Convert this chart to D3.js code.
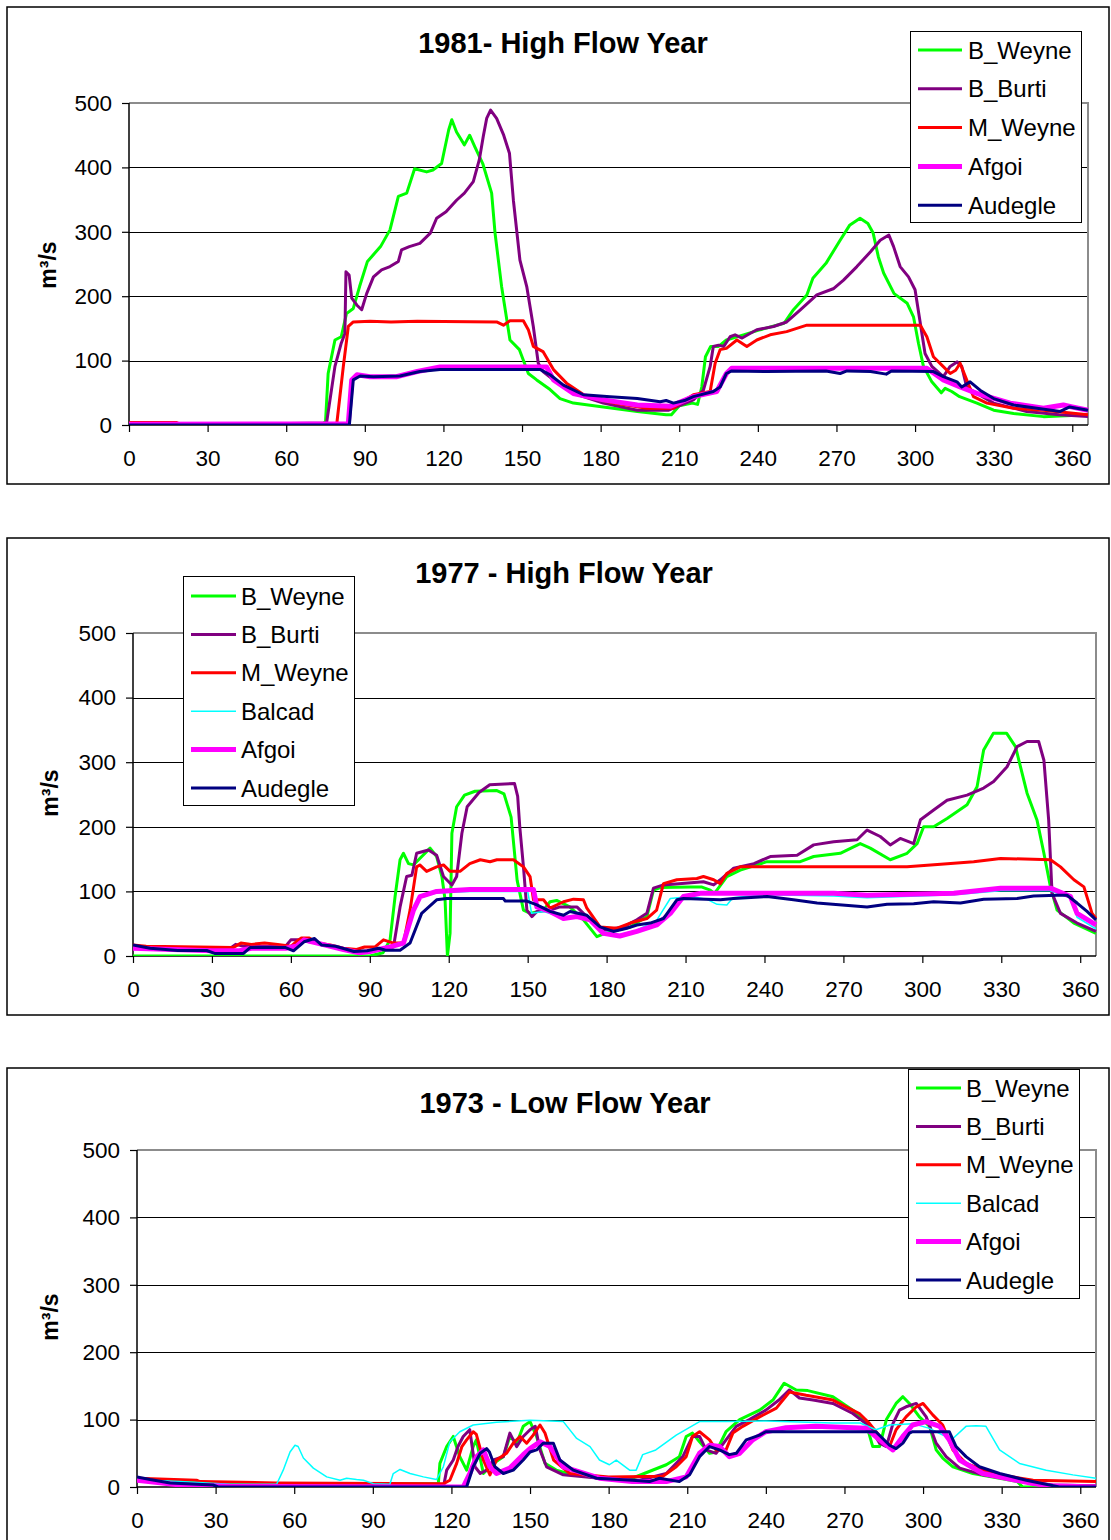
<!DOCTYPE html>
<html><head><meta charset="utf-8">
<script src="https://cdn.jsdelivr.net/npm/d3@7"></script>
<style>
html,body{margin:0;padding:0;background:#fff;}
svg{display:block;font-family:"Liberation Sans",Arial,sans-serif;}
</style></head>
<body>
<svg id="c" width="1111" height="1540"></svg>
<script>
// ---------- DATA ----------
const xTicks = [0,30,60,90,120,150,180,210,240,270,300,330,360];
const yTicks = [0,100,200,300,400,500];
const titles = ["1981- High Flow Year", "1977 - High Flow Year", "1973 - Low Flow Year"];
const names81 = ["B_Weyne","B_Burti","M_Weyne","Afgoi","Audegle"];
const names77 = ["B_Weyne","B_Burti","M_Weyne","Balcad","Afgoi","Audegle"];
const names73 = ["B_Weyne","B_Burti","M_Weyne","Balcad","Afgoi","Audegle"];

// 1981 [day, m3/s]
const bWeyne81 = [[0,2],[20,2],[40,1],[74,2],[75,5],[76,80],[78.6,132],[81,137],[83,173],[85.6,181],[88,215],[91,254],[96,277],[99.6,303],[102.8,355],[106,360],[109,398],[113.6,393],[116,396],[119.3,406],[122,458],[123.2,474],[125,455],[128,435],[130,450],[132,432],[135,406],[138.4,360],[139.7,298],[142.2,215],[145.4,132],[149,117],[152.4,80],[155.6,70],[160.7,55],[164.5,41],[169.6,34],[181,28],[194,21],[205,16],[207,16],[210,30],[215,34],[217,32],[218.6,59],[220,106],[222,122],[225,122],[228,132],[234.5,140],[241,148],[250,158],[253.6,179],[258.7,202],[261,228],[266,251],[271.4,287],[275,310],[279,321],[282,313],[284,298],[286,261],[288,236],[292,204],[297,189],[299.4,168],[301.3,127],[303.2,91],[306.4,67],[310,50],[311.5,57],[314,52],[317,44],[323.6,34],[330,23],[337.6,18],[349,13],[366,16]];
const bBurti81 = [[0,1],[40,1],[75.4,3],[78.6,91],[81,127],[82.4,142],[82.8,238],[84,233],[85,197],[87,186],[88.8,179],[90.7,204],[93.3,230],[96.4,241],[99.6,246],[102.8,254],[104,272],[107,277],[111,282],[115,298],[117.4,321],[121,331],[125,349],[128,360],[131.4,378],[133.7,412],[135.2,448],[136.5,476],[138,489],[140.3,476],[143,450],[145.2,422],[146.7,349],[149.2,256],[151.8,215],[154.3,153],[156.2,96],[158,83],[162,70],[169.6,49],[181,34],[194,23],[206,23],[215.4,39],[219.2,54],[221.8,91],[223,122],[225,124],[227,122],[229.4,137],[231.3,140],[234,135],[237,142],[239.6,148],[246,153],[251,160],[256,178],[262.5,202],[269,212],[272.7,225],[277.8,246],[283,269],[286.7,287],[290,295],[291.8,277],[294.3,246],[297.5,230],[300,210],[302,158],[303.8,111],[306.4,91],[310.8,75],[313.4,91],[316,98],[317.8,91],[319.7,59],[323.6,49],[330,34],[342.6,21],[355,16],[366,13]];
const mWeyne81 = [[0,4],[18,4],[19,2],[79.3,2],[81.8,91],[83.7,153],[85.6,160],[92,161],[100,160],[110,161],[140.3,160],[142.9,155],[145.4,162],[150.5,162],[152.4,148],[154.3,122],[158,114],[162,86],[167,65],[174.7,44],[185,34],[197.6,26],[207.8,26],[210.3,34],[215.4,47],[221.8,52],[223.7,96],[225.6,117],[228,119],[232,132],[235.8,122],[239.6,132],[244.7,140],[251,145],[258.7,155],[302,155],[304.5,137],[307,106],[310.2,93],[313.4,80],[315.5,85],[317.2,96],[319.7,70],[322.3,44],[327.4,34],[337.6,26],[349,23],[366,16]];
const afgoi81 = [[0,1],[83.7,2],[85,70],[87,78],[92,75],[102,75],[110,83],[118.7,90],[159.4,90],[162,70],[169.6,49],[181,39],[194,31],[206.5,29],[215.4,44],[224.3,52],[228,80],[230,88],[304.5,88],[310.8,70],[317.2,59],[323.6,49],[336.3,34],[349,26],[356.6,31],[360,28],[366,23]];
const audegle81 = [[0,0],[84.1,0],[85.6,70],[88.2,76],[93.3,75],[103.4,76],[111,83],[118.7,86],[157,86],[160.7,78],[165.8,62],[173.4,47],[183.6,44],[194,41],[202.7,36],[205,38],[207.8,34],[212,38],[215.4,44],[223,52],[225.6,59],[228,80],[230,84],[243,83],[266,84],[271.4,80],[274,84],[283,83],[289,79],[291,84],[307,83],[310.8,75],[316,67],[317.8,59],[321,67],[324.8,54],[330,41],[337.6,31],[346.5,26],[355.4,21],[359,28],[366,23]];

// 1977
const bWeyne77 = [[0,0],[90,0],[95,5],[97.7,25],[99.6,92],[101.5,149],[102.8,159],[104.7,143],[106.6,141],[109,151],[112.9,167],[115.4,154],[117.4,123],[118.6,87],[119.5,0],[120.5,35],[121.2,190],[123,231],[126,249],[130,255],[138.3,256],[141,251],[143.7,215],[146,117],[148.4,71],[151,66],[156,71],[158.5,84],[161,86],[166,76],[171.2,56],[176.3,30],[181.4,38],[189,45],[195.3,61],[197.8,102],[200.4,106],[211.8,107],[216,107],[219.4,102],[221,97],[225.7,123],[230.8,133],[241,146],[253.6,146],[258.7,154],[268.8,159],[276.4,174],[280.2,167],[287.8,149],[294.2,159],[298,174],[300.5,200],[304.3,200],[309.4,213],[317,234],[320.8,262],[323.3,319],[327,345],[332,345],[335.4,324],[339.8,252],[343.6,210],[346.2,159],[348.7,107],[351.2,71],[357.6,51],[366,35]];
const bBurti77 = [[0,14],[10,12],[37,12],[39,18],[42,15],[58,15],[60,25],[64,25],[67,22],[70,20],[75,15],[80,10],[86,5],[92,8],[99,14],[101.5,76],[104,123],[106,125],[107.8,159],[112.3,164],[115.4,156],[118,123],[121.2,110],[123,123],[125,190],[127,231],[131.5,253],[135.6,265],[145,267],[146.2,247],[147,200],[148.4,138],[149.7,71],[151.6,61],[153.5,69],[158.5,71],[162.3,76],[168.7,76],[173.7,56],[178.8,40],[186.4,45],[191.5,56],[195.3,66],[197.8,105],[201.6,110],[216.8,115],[220.7,110],[223.2,118],[228.3,136],[236,143],[242.2,154],[252.4,156],[258.7,172],[266.3,177],[275.2,180],[279,195],[284,185],[287.8,172],[291.6,182],[296.7,174],[299.3,211],[304.3,226],[309.4,241],[317,249],[323.3,260],[327.1,270],[332.2,293],[336,324],[339.8,332],[344.2,332],[346.2,303],[348,211],[349.3,97],[352.5,66],[358.8,51],[366,38]];
const mWeyne77 = [[0,17],[5,15],[38,13],[41,20],[45,18],[50,20],[55,18],[60,15],[62,22],[64,28],[67,28],[70,20],[75,17],[80,12],[85,10],[88,14],[92,14],[95.2,25],[99,20],[102.8,20],[105.3,71],[107.8,138],[109,141],[111.6,131],[115.4,138],[118,141],[120.5,131],[124.3,131],[128,143],[132,149],[135.7,146],[138.3,149],[144.6,149],[148.4,138],[150.9,123],[152.2,87],[156,87],[158.5,74],[163.6,84],[167.4,88],[171.2,87],[172.5,74],[177.5,45],[184,43],[189,51],[195.3,58],[199,71],[201.6,112],[206.7,118],[214.3,120],[216.8,123],[220.7,118],[223.2,112],[225.7,128],[230.8,138],[294.2,138],[307,142],[319.5,146],[329.7,151],[348.7,149],[352.5,138],[357.6,118],[361.4,107],[364.5,66],[366,58]];
const balcad77 = [[0,12],[30,8],[40,8],[45,12],[58,12],[62,15],[65,25],[68,22],[72,18],[80,10],[86,5],[90,8],[97.7,14],[102.8,20],[106.6,68],[109.1,90],[115.4,98],[128,100],[150,100],[151.5,66],[156,69],[163.6,60],[168.7,63],[173.7,58],[178.8,38],[185,33],[191.5,40],[199,55],[204.2,89],[211.8,92],[218,88],[222,80],[225.7,79],[228,90],[240,95],[266.3,93],[279,90],[312,95],[329.7,101],[348.7,101],[356.3,90],[358.8,60],[366,42]];
const afgoi77 = [[0,12],[30,8],[40,8],[45,12],[58,12],[62,15],[65,25],[68,22],[72,18],[80,10],[86,5],[90,7],[97.7,14],[102.8,20],[106.6,71],[109.1,92],[115.4,100],[128,103],[152.2,103],[153.5,76],[158.5,69],[163.6,58],[168.7,61],[173.7,56],[178.8,35],[185,31],[191.5,38],[199,48],[204.2,66],[209.2,92],[211.8,94],[215.6,97],[230.8,97],[266.3,97],[279,94],[312,97],[329.7,105],[348.7,105],[356.3,92],[358.8,66],[366,48]];
const audegle77 = [[0,17],[6.5,12],[17,8.5],[28,8.5],[31,4],[42,4],[44.5,13],[58,13],[61,8],[65,22],[69,27],[71.7,17],[77,15],[84,7],[89,8],[93.4,12],[96,9],[101.5,9],[105.3,20],[109.7,66],[115.4,87],[119.2,89],[140.8,89],[141.5,85],[149.7,85],[153.5,79],[158.5,69],[163.6,63],[166.1,69],[172.5,63],[177.5,45],[182.6,38],[187.7,43],[191.5,48],[196.6,51],[201.6,58],[206.7,87],[209.2,89],[223.2,87],[228.3,89],[241,92],[251,87],[260,82],[279,76],[286.6,80],[296.7,81],[304.3,84],[314.5,82],[323.3,88],[336,89],[342.3,93],[351.2,94],[355,94],[358.8,82],[362.6,69],[366,56]];

// 1973
const bWeyne73 = [[0,12],[10,9],[25,7],[40,5],[115,5],[115.6,35],[118.2,60],[120.7,75],[123.2,45],[125.8,25],[128.3,60],[129.5,70],[132.2,20],[136,35],[139.8,45],[142.3,75],[144.9,65],[147.4,90],[150,97],[152.5,75],[155.7,35],[160,25],[166.5,18],[180,12],[189,13],[202,33],[207,45],[209.6,75],[212,80],[214.7,67],[218.5,50],[221,52],[224.8,82],[230,100],[237.6,114],[242.7,129],[247,154],[251.6,144],[256,143],[265.6,134],[273.2,114],[278.3,94],[280.8,60],[283.4,60],[286,100],[289.7,124],[292.3,134],[294.8,124],[298.6,104],[302.5,90],[305,55],[307.5,43],[311.4,30],[319,20],[329.2,13],[336,8],[338,0],[366,0]];
const bBurti73 = [[0,10],[12,6],[25,3],[40,1],[117,1],[118.2,25],[120.7,40],[122.5,60],[124.5,75],[127,85],[129,30],[131,20],[133.4,25],[136,40],[139.8,45],[142.3,80],[144.9,60],[147.4,75],[150,85],[152,90],[153.8,55],[156.3,30],[162.7,18],[176.5,13],[191.8,10],[202,20],[208.3,45],[212,75],[214.7,75],[217.2,55],[221,50],[224.8,70],[228.7,90],[233.7,100],[240,114],[245,129],[249,144],[252.8,132],[258,129],[265.6,124],[273.2,109],[279.6,90],[283.4,65],[286,60],[288.5,94],[291,114],[293.5,119],[297.4,124],[301.2,104],[305,65],[308.8,45],[314,28],[322.8,18],[335.5,10],[349.5,3],[366,2]];
const mWeyne73 = [[0,13],[22.7,10],[24,8],[53,6],[117,5],[119.4,10],[122,35],[124,60],[125.8,70],[128.3,82],[129.5,78],[132.2,40],[134.7,18],[137.2,40],[141,50],[143.6,65],[146.2,75],[148.7,65],[151.2,77],[153.8,92],[155.7,80],[159,40],[165.2,20],[180,15],[200.7,16],[205.8,30],[209.6,45],[212,75],[214.7,82],[218.5,70],[221,55],[224.8,55],[227.4,80],[231.2,90],[237.6,104],[244,117],[249,141],[255.4,136],[265.6,129],[270.6,119],[275.7,109],[279.6,94],[284.6,70],[287.2,60],[289.7,85],[293.5,104],[297.4,119],[300,124],[303.7,107],[307.5,92],[311.4,55],[316.4,35],[326.6,20],[342,10],[366,8]];
const balcad73 = [[0,13],[5,10],[16.4,8],[35.5,4],[53.3,4],[55.8,25],[58.4,52],[60.3,62],[61.5,60],[63.5,43],[67.3,28],[72.4,15],[77.5,10],[80,13],[83.8,11],[86.4,10],[90.2,5],[96.5,4],[97.8,20],[100.4,26],[104.2,20],[109.3,15],[114.3,11],[116.9,30],[119.4,67],[123.2,82],[128.3,92],[137.2,96],[150,99],[162.7,97],[167.8,72],[172.9,60],[176.5,40],[180.3,33],[182.9,40],[188,25],[190.5,25],[193,48],[198,55],[205.8,77],[214.7,97],[224.8,97],[240,98],[265.6,95],[276,95],[282,85],[287.2,92],[296,94],[302.5,87],[307.5,77],[311.4,72],[316.4,90],[320.3,91],[324,90],[329.2,55],[336.8,35],[347,25],[357.2,18],[366,13]];
const afgoi73 = [[0,10],[16.4,3],[35.5,1],[124.5,0],[127,20],[129.6,45],[132.2,55],[134.7,30],[137.2,20],[142.3,28],[147.4,48],[150,57],[153.8,67],[157.6,60],[162.7,30],[176.5,13],[189,8],[202,8],[209.6,15],[214.7,50],[218.5,62],[222.3,60],[226.1,45],[230,50],[235,70],[240,82],[247.7,88],[259,90],[278.3,87],[283.4,70],[288.5,55],[292.3,75],[296,92],[301.2,97],[306.3,90],[310,70],[314,40],[322.8,20],[342,5],[348,2],[366,0]];
const audegle73 = [[0,15],[5,11],[12.6,6],[29,3],[31,0],[125.8,0],[128.3,30],[131,50],[133.4,57],[134.5,52],[136.6,30],[139.8,20],[143.6,25],[147.4,40],[150,52],[152.5,55],[155,65],[158.9,65],[161.4,40],[166.5,25],[175.4,13],[189,10],[195.6,8],[199.4,13],[207,8],[210.9,18],[214.7,45],[218.5,60],[222.3,55],[226,48],[228.7,50],[232.5,70],[237.6,77],[240,82],[282,82],[287.2,62],[289.7,57],[292.3,65],[294.8,80],[296,82],[310,82],[312.6,60],[316.4,45],[321.5,30],[329.2,20],[339.4,10],[352,0],[366,0]];

// ---------- STYLES ----------
const styleOf = {
  "B_Weyne": {color:"#00FF00", w:3},
  "B_Burti": {color:"#800080", w:3},
  "M_Weyne": {color:"#FF0000", w:3},
  "Balcad":  {color:"#00FFFF", w:1.5},
  "Afgoi":   {color:"#FF00FF", w:5},
  "Audegle": {color:"#000080", w:3}
};

const charts = [
  {title:titles[0], names:names81, series:[bWeyne81,bBurti81,mWeyne81,afgoi81,audegle81],
   panel:[7,7,1102,477], plot:{l:129,r:1088,t:103,b:425}, titleY:53, titleX:563,
   ylab:[48,265], legend:{x:910,y:31,w:171,h:191,row0:50,step:38.8,sx1:918,sx2:962,tx:968}},
  {title:titles[1], names:names77, series:[bWeyne77,bBurti77,mWeyne77,balcad77,afgoi77,audegle77],
   panel:[7,538,1102,477], plot:{l:133,r:1096,t:633,b:956}, titleY:583, titleX:564,
   ylab:[50,793], legend:{x:183,y:576,w:171,h:229,row0:596,step:38.4,sx1:191,sx2:236,tx:241}},
  {title:titles[2], names:names73, series:[bWeyne73,bBurti73,mWeyne73,balcad73,afgoi73,audegle73],
   panel:[7,1068,1102,500], plot:{l:137,r:1096,t:1150,b:1487}, titleY:1113, titleX:565,
   ylab:[50,1317], legend:{x:908,y:1069,w:171,h:229,row0:1088,step:38.4,sx1:916,sx2:961,tx:966}}
];

const svg = d3.select("#c");
svg.append("rect").attr("width",1111).attr("height",1540).attr("fill","#fff");

charts.forEach((c,ci) => {
  const g = svg.append("g");
  const p = c.plot;
  // panel border
  g.append("rect").attr("x",c.panel[0]).attr("y",c.panel[1]).attr("width",c.panel[2]).attr("height",c.panel[3])
    .attr("fill","#fff").attr("stroke","#000").attr("stroke-width",1.5);

  const x = d3.scaleLinear().domain([0,366]).range([p.l,p.r]);
  const y = d3.scaleLinear().domain([0,500]).range([p.b,p.t]);

  // title
  g.append("text").attr("x",c.titleX).attr("y",c.titleY).attr("text-anchor","middle")
    .attr("font-size",29).attr("font-weight","bold").attr("fill","#000").text(c.title);

  // y label
  g.append("text").attr("transform",`translate(${c.ylab[0]+8},${c.ylab[1]}) rotate(-90)`)
    .attr("text-anchor","middle").attr("font-size",23).attr("font-weight","bold").text("m³/s");

  // gridlines
  g.selectAll(".grid").data(yTicks.filter(v=>v>0 && v<500)).join("line")
    .attr("x1",p.l).attr("x2",p.r).attr("y1",d=>Math.round(y(d))+0.5).attr("y2",d=>Math.round(y(d))+0.5)
    .attr("stroke","#000").attr("stroke-width",1);
  // plot frame top/right (gray)
  g.append("path").attr("d",`M${p.l},${y(500)}H${p.r}V${p.b}`).attr("fill","none")
    .attr("stroke","#8c8c8c").attr("stroke-width",2);

  // axes
  const ya = d3.axisLeft(y).tickValues(yTicks).tickSize(7).tickPadding(10).tickFormat(d3.format("d"));
  const yg = g.append("g").attr("transform",`translate(${p.l},0)`).call(ya);
  const xa = d3.axisBottom(x).tickValues(xTicks).tickSize(7).tickPadding(18).tickFormat(d3.format("d"));
  const xg = g.append("g").attr("transform",`translate(0,${p.b})`).call(xa);
  [yg,xg].forEach(a=>{
    a.select(".domain").attr("stroke","#000").attr("stroke-width",1.5);
    a.selectAll(".tick line").attr("stroke","#000").attr("stroke-width",1.2);
    a.selectAll(".tick text").attr("font-size",22.5).attr("fill","#000")
      .attr("font-family","'Liberation Sans',Arial,sans-serif");
  });
  xg.select(".domain").attr("d",`M${p.l},0H${p.r}`);
  yg.select(".domain").attr("d",`M0,${p.t}V${p.b}`);

  // clip
  const clipId = "clip"+ci;
  svg.append("clipPath").attr("id",clipId).append("rect")
    .attr("x",p.l).attr("y",p.t-4).attr("width",p.r-p.l+2).attr("height",p.b-p.t+4);

  const line = d3.line().x(d=>x(d[0])).y(d=>y(d[1]));
  const lg = g.append("g").attr("clip-path",`url(#${clipId})`);
  c.series.forEach((s,si) => {
    const st = styleOf[c.names[si]];
    lg.append("path").datum(s).attr("d",line).attr("fill","none")
      .attr("stroke",st.color).attr("stroke-width",st.w).attr("stroke-linejoin","round");
  });

  // legend
  const L = c.legend;
  const leg = g.append("g");
  leg.append("rect").attr("x",L.x+0.5).attr("y",L.y+0.5).attr("width",L.w).attr("height",L.h)
    .attr("fill","#fff").attr("stroke","#000").attr("stroke-width",1);
  c.names.forEach((n,i) => {
    const st = styleOf[n];
    const yy = L.row0 + i*L.step;
    leg.append("line").attr("x1",L.sx1).attr("x2",L.sx2).attr("y1",yy).attr("y2",yy)
      .attr("stroke",st.color).attr("stroke-width",st.w);
    leg.append("text").attr("x",L.tx).attr("y",yy+8.5).attr("font-size",24).attr("fill","#000").text(n);
  });
});
</script>
</body></html>
